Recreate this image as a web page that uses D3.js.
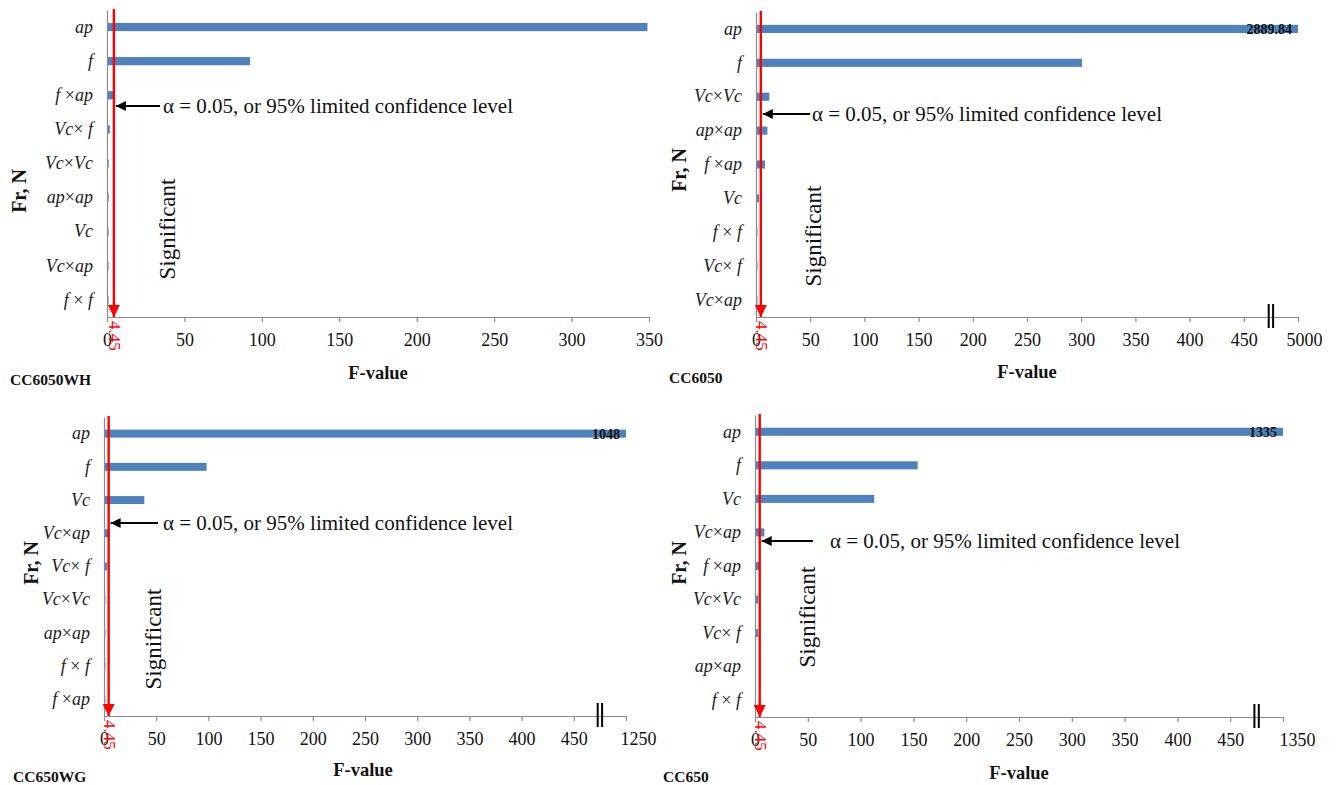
<!DOCTYPE html>
<html>
<head>
<meta charset="utf-8">
<script src="https://cdn.jsdelivr.net/npm/d3@7"></script>
<style>
  html, body { margin: 0; padding: 0; background: #fff; }
  svg { display: block; }
  text { font-family: "Liberation Serif", "Times New Roman", serif; }
</style>
</head>
<body>
<svg id="chart" width="1339" height="785"></svg>
<script>
// ANOVA F-values of the cutting-force model terms for four insert grades
const cats1 = ["ap", "f", "f ×ap", "Vc× f", "Vc×Vc", "ap×ap", "Vc", "Vc×ap", "f × f"];
const vals1 = [349, 92.4, 5.2, 1.8, 1.1, 1.1, 1.0, 1.0, 1.0];
const ticks1 = [0, 50, 100, 150, 200, 250, 300, 350];
const tickLabels1 = ["0", "50", "100", "150", "200", "250", "300", "350"];

const cats2 = ["ap", "f", "Vc×Vc", "ap×ap", "f ×ap", "Vc", "f × f", "Vc× f", "Vc×ap"];
const vals2 = [2889.84, 300.7, 12.3, 10.5, 8.3, 2.8, 1.3, 1.3, 1.3];
const ticks2 = [0, 50, 100, 150, 200, 250, 300, 350, 400, 450, 500];
const tickLabels2 = ["0", "50", "100", "150", "200", "250", "300", "350", "400", "450", "5000"];

const cats3 = ["ap", "f", "Vc", "Vc×ap", "Vc× f", "Vc×Vc", "ap×ap", "f × f", "f ×ap"];
const vals3 = [1048, 98.3, 38.6, 5.5, 3.0, 1.3, 1.3, 1.3, 1.3];
const ticks3 = [0, 50, 100, 150, 200, 250, 300, 350, 400, 450, 500];
const tickLabels3 = ["0", "50", "100", "150", "200", "250", "300", "350", "400", "450", "1250"];

const cats4 = ["ap", "f", "Vc", "Vc×ap", "f ×ap", "Vc×Vc", "Vc× f", "ap×ap", "f × f"];
const vals4 = [1335, 154, 112.9, 8.8, 4.0, 3.0, 3.0, 0, 0];
const ticks4 = [0, 50, 100, 150, 200, 250, 300, 350, 400, 450, 500];
const tickLabels4 = ["0", "50", "100", "150", "200", "250", "300", "350", "400", "450", "1350"];

const critical = 4.45;           // F critical at alpha = 0.05
const alphaText = "α = 0.05, or 95% limited confidence level";

// Panel layout (pixel frames and annotation placement)
const panels = [
  { name: "CC6050WH", cats: cats1, vals: vals1, ticks: ticks1, labels: tickLabels1, domain: [0, 350],
    left: 107, right: 649, top: 10, bottom: 317, valueLabel: false, brk: null, lastDx: 0,
    arrowY: 106, arrowTail: 160, textX: 163, sig: [167, 229], yTitle: [19, 191], xTitle: [378, 373], nameXY: [10, 385] },
  { name: "CC6050", cats: cats2, vals: vals2, ticks: ticks2, labels: tickLabels2, domain: [0, 500],
    left: 756, right: 1298, top: 12, bottom: 317, valueLabel: true, brk: 475, lastDx: 6,
    arrowY: 114, arrowTail: 810, textX: 812, sig: [813, 236], yTitle: [679, 170], xTitle: [1027, 372], nameXY: [669, 383] },
  { name: "CC650WG", cats: cats3, vals: vals3, ticks: ticks3, labels: tickLabels3, domain: [0, 500],
    left: 104, right: 626, top: 417, bottom: 716, valueLabel: true, brk: 475, lastDx: 12,
    arrowY: 523, arrowTail: 158, textX: 163, sig: [153, 639], yTitle: [31, 563], xTitle: [363, 770], nameXY: [13, 782] },
  { name: "CC650", cats: cats4, vals: vals4, ticks: ticks4, labels: tickLabels4, domain: [0, 500],
    left: 755, right: 1283, top: 415, bottom: 717, valueLabel: true, brk: 475, lastDx: 14,
    arrowY: 541, arrowTail: 813, textX: 830, sig: [807, 617], yTitle: [679, 563], xTitle: [1019, 773], nameXY: [663, 782] }
];

const svg = d3.select("#chart");
const defs = svg.append("defs");
defs.append("marker").attr("id", "redHead").attr("viewBox", "0 0 10 10")
  .attr("refX", 10).attr("refY", 5).attr("markerWidth", 5).attr("markerHeight", 5)
  .attr("markerUnits", "strokeWidth").attr("orient", "auto")
  .append("path").attr("d", "M0,0L10,5L0,10Z").attr("fill", "#ff0000");
defs.append("marker").attr("id", "blackHead").attr("viewBox", "0 0 10 10")
  .attr("refX", 10).attr("refY", 5).attr("markerWidth", 6).attr("markerHeight", 5)
  .attr("markerUnits", "strokeWidth").attr("orient", "auto")
  .append("path").attr("d", "M0,0L10,5L0,10Z").attr("fill", "#000");

const axisGrey = "#8c8c8c";
const barBlue = "#4f81bd";
const serif = "Liberation Serif, Times New Roman, serif";

// Term labels: variables italic, the × sign upright
function termLabel(sel) {
  sel.each(function(d) {
    const t = d3.select(this).text("");
    const parts = d.split("×");
    parts.forEach((p, i) => {
      if (i > 0) t.append("tspan").attr("font-style", "normal").text("×");
      if (p.length) t.append("tspan").attr("font-style", "italic").text(p);
    });
  });
}

panels.forEach(p => {
  const g = svg.append("g");
  const x = d3.scaleLinear().domain(p.domain).range([p.left, p.right]).clamp(true);
  const y = d3.scaleBand().domain(p.cats).range([p.top, p.bottom])
    .paddingInner(0.76).paddingOuter(0.38);

  // bars
  g.selectAll("rect.bar").data(p.cats.map((c, i) => ({ c, v: p.vals[i] })))
    .join("rect").attr("class", "bar")
    .attr("x", x(0)).attr("y", d => y(d.c))
    .attr("width", d => Math.max(0, x(d.v) - x(0)))
    .attr("height", y.bandwidth())
    .attr("fill", barBlue);

  // value label on the longest bar
  if (p.valueLabel) {
    g.append("text")
      .attr("x", x(p.vals[0]) - 6).attr("y", y(p.cats[0]) + y.bandwidth() / 2)
      .attr("dy", "0.35em").attr("text-anchor", "end")
      .attr("font-size", 14).attr("font-weight", "bold").attr("fill", "#111")
      .text(p.vals[0]);
  }

  // x axis
  const xa = g.append("g").attr("transform", `translate(0,${p.bottom})`)
    .call(d3.axisBottom(x).tickValues(p.ticks).tickFormat((d, i) => p.labels[i])
      .tickSize(5).tickSizeOuter(0).tickPadding(11));
  xa.select(".domain").attr("stroke", axisGrey).attr("stroke-width", 1.2);
  xa.selectAll(".tick line").attr("stroke", axisGrey).attr("stroke-width", 1.2);
  xa.selectAll(".tick text").attr("font-size", 18).attr("fill", "#111")
    .attr("font-family", serif)
    .attr("dx", (d, i) => i === p.ticks.length - 1 ? p.lastDx : 0);

  // y axis
  const ya = g.append("g").attr("transform", `translate(${p.left},0)`)
    .call(d3.axisLeft(y).tickSize(0).tickSizeOuter(0).tickPadding(14));
  ya.select(".domain").attr("stroke", axisGrey).attr("stroke-width", 1.2);
  ya.selectAll(".tick text").attr("font-size", 18).attr("fill", "#222")
    .attr("font-family", serif)
    .call(termLabel);

  // axis break mark
  if (p.brk !== null) {
    [-2.2, 2.2].forEach(o => {
      g.append("line").attr("x1", x(p.brk) + o).attr("x2", x(p.brk) + o)
        .attr("y1", p.bottom - 13).attr("y2", p.bottom + 11)
        .attr("stroke", "#000").attr("stroke-width", 2);
    });
  }

  // critical F line
  const cx = x(critical);
  g.append("line").attr("x1", cx).attr("x2", cx)
    .attr("y1", p.top - 1).attr("y2", p.bottom)
    .attr("stroke", "#ff0000").attr("stroke-width", 2.4)
    .attr("marker-end", "url(#redHead)");
  g.append("text")
    .attr("transform", `translate(${cx - 5},${p.bottom + 4}) rotate(90)`)
    .attr("font-size", 17).attr("fill", "#ff0000")
    .text(critical);

  // confidence-level callout
  g.append("line").attr("x1", p.arrowTail).attr("x2", cx + 2)
    .attr("y1", p.arrowY).attr("y2", p.arrowY)
    .attr("stroke", "#000").attr("stroke-width", 2)
    .attr("marker-end", "url(#blackHead)");
  g.append("text").attr("x", p.textX).attr("y", p.arrowY).attr("dy", "0.35em")
    .attr("font-size", 21).attr("fill", "#111").text(alphaText);

  g.append("text")
    .attr("transform", `translate(${p.sig[0]},${p.sig[1]}) rotate(-90)`)
    .attr("text-anchor", "middle").attr("dy", "0.35em")
    .attr("font-size", 23).attr("fill", "#111").text("Significant");

  // titles
  g.append("text")
    .attr("transform", `translate(${p.yTitle[0]},${p.yTitle[1]}) rotate(-90)`)
    .attr("text-anchor", "middle").attr("dy", "0.35em")
    .attr("font-size", 20).attr("font-weight", "bold").attr("fill", "#111").text("Fr, N");
  g.append("text").attr("x", p.xTitle[0]).attr("y", p.xTitle[1]).attr("dy", "0.35em")
    .attr("text-anchor", "middle").attr("font-size", 18.5).attr("font-weight", "bold")
    .attr("fill", "#111").text("F-value");
  g.append("text").attr("x", p.nameXY[0]).attr("y", p.nameXY[1])
    .attr("font-size", 15.5).attr("font-weight", "bold").attr("fill", "#111").text(p.name);
});
</script>
</body>
</html>
